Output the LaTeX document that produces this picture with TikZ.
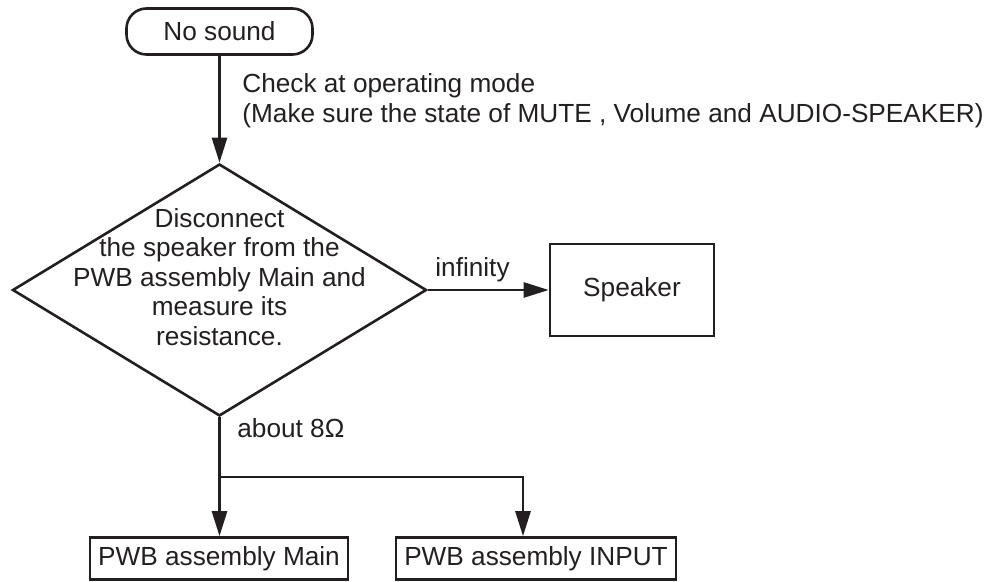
\documentclass[tikz,border=0pt]{standalone}
\usepackage{fontspec}
\setmainfont{Liberation Sans}
\usetikzlibrary{shapes.geometric,arrows.meta}
\definecolor{ink}{HTML}{231F20}
\begin{document}
\begin{tikzpicture}[x=0.5pt,y=-0.5pt,
  txt/.style={font=\fontsize{13.1pt}{14.8pt}\selectfont, text=ink, inner sep=0pt},
  ln/.style={draw=ink, line width=1.3pt},
  arr/.style={ln, -{Triangle[length=12.5pt,width=7.5pt]}},
  boxnode/.style={txt, ln, rectangle, inner sep=0pt},
  startnode/.style={boxnode, rounded corners=10pt},
  decnode/.style={ln, diamond, inner sep=0pt}
]
\useasboundingbox (0,0) rectangle (984,582);

\node[startnode, minimum width=93pt, minimum height=23pt] (nosound) at (219.5,31.5) {No sound};

\node[decnode, minimum width=207pt, minimum height=126pt,
  label={[txt, align=center, yshift=6.5pt]center:{Disconnect\\the speaker from the\\PWB assembly Main and\\measure its\\resistance.}}] (dec) at (219.5,290) {};

\node[boxnode, minimum width=82pt, minimum height=46pt] (speaker) at (632,290) {Speaker};

\node[boxnode, minimum width=129pt, minimum height=21pt] (main) at (219,558.5) {PWB assembly Main};
\node[boxnode, minimum width=140pt, minimum height=21pt] (input) at (536,558.5) {PWB assembly INPUT};

\node[txt, align=left, anchor=west] (note) at (242,101) {Check at operating mode\\(Make sure the state of MUTE , Volume and AUDIO-SPEAKER)};
\node[txt] (inf) at (472.5,270) {infinity};
\node[txt, anchor=west] (ohm) at (237,428) {about 8Ω};

\coordinate (j) at (219.5,477);
\coordinate (j2) at (523,477);

\draw[arr] (nosound.south) -- (dec.north);
\draw[arr] (dec.east) -- (speaker.west);
\draw[ln] (dec.south) -- (j);
\draw[arr] (j) -- (j |- main.north);
\draw[arr] (j) -- (j2) -- (j2 |- input.north);
\end{tikzpicture}
\end{document}
